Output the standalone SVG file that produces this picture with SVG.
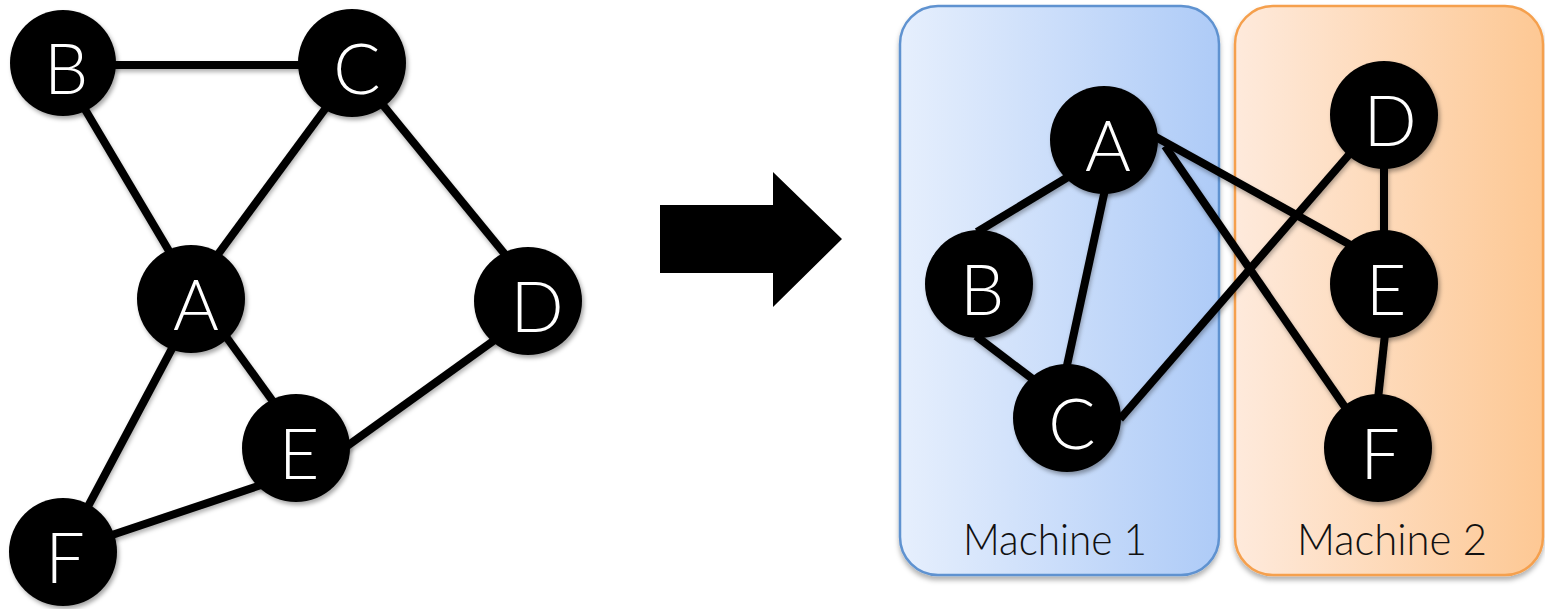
<svg xmlns="http://www.w3.org/2000/svg" width="1545" height="609" viewBox="0 0 1545 609">
  <defs>
    <linearGradient id="gradBlue" x1="0" y1="0" x2="1" y2="0">
      <stop offset="0" stop-color="#e6effd"/>
      <stop offset="1" stop-color="#aecbf7"/>
    </linearGradient>
    <linearGradient id="gradOrange" x1="0" y1="0" x2="1" y2="0">
      <stop offset="0" stop-color="#feeadc"/>
      <stop offset="1" stop-color="#fdc894"/>
    </linearGradient>
    <filter id="softShadow" x="-20%" y="-20%" width="140%" height="140%">
      <feDropShadow dx="2" dy="3" stdDeviation="2" flood-color="#000" flood-opacity="0.35"/>
    </filter>
    <filter id="lineShadow" x="-10%" y="-10%" width="120%" height="120%">
      <feDropShadow dx="1" dy="3" stdDeviation="2" flood-color="#000" flood-opacity="0.3"/>
    </filter>
    <filter id="boxShadow" x="-10%" y="-10%" width="120%" height="120%">
      <feDropShadow dx="0" dy="4" stdDeviation="2.5" flood-color="#000" flood-opacity="0.3"/>
    </filter>
  </defs>
  <style>
    .edge { stroke: #000; stroke-width: 8; fill: none; }
    .node circle { fill: #000; filter: url(#softShadow); }
    .node text { fill: #fff; font-family: Lato, "Open Sans", "Liberation Sans", sans-serif; font-weight: 300; font-size: 70px; text-anchor: middle; }
    .label { fill: #111; font-family: Lato, "Open Sans", "Liberation Sans", sans-serif; font-weight: 300; font-size: 44px; }
  </style>

  <rect width="1545" height="609" fill="#fff"/>

  <!-- machine partitions -->
  <g id="machine1">
    <rect x="900" y="6" width="319" height="569" rx="38" ry="38" fill="url(#gradBlue)" stroke="#5e92d0" stroke-width="2.5" filter="url(#boxShadow)"/>
    <text class="label" x="963" y="555" textLength="184" lengthAdjust="spacingAndGlyphs">Machine 1</text>
  </g>
  <g id="machine2">
    <rect x="1235" y="6" width="308" height="569" rx="38" ry="38" fill="url(#gradOrange)" stroke="#f5a04e" stroke-width="2.5" filter="url(#boxShadow)"/>
    <text class="label" x="1297" y="555" textLength="190" lengthAdjust="spacingAndGlyphs">Machine 2</text>
  </g>

  <!-- transformation arrow -->
  <g id="arrow">
    <polygon points="660,205 773,205 773,172 842,239 773,307 773,273 660,273" fill="#000"/>
  </g>

  <!-- edges -->
  <g id="connectors" filter="url(#lineShadow)">
    <!-- original graph -->
    <line class="edge" x1="110" y1="65" x2="305" y2="65"/>
    <line class="edge" x1="83" y1="106" x2="172" y2="256"/>
    <line class="edge" x1="328" y1="105" x2="213" y2="261"/>
    <line class="edge" x1="378" y1="99" x2="508" y2="258"/>
    <line class="edge" x1="222" y1="331" x2="277" y2="407"/>
    <line class="edge" x1="176" y1="341" x2="84" y2="514"/>
    <line class="edge" x1="267" y1="483" x2="106" y2="537"/>
    <line class="edge" x1="343" y1="449" x2="496" y2="339"/>
    <!-- partitioned graph -->
    <line class="edge" x1="977" y1="232" x2="1068" y2="177"/>
    <line class="edge" x1="1106" y1="185" x2="1066" y2="370"/>
    <line class="edge" x1="976" y1="336" x2="1034" y2="380"/>
    <line class="edge" x1="1120" y1="419" x2="1353" y2="150"/>
    <line class="edge" x1="1154" y1="136" x2="1356" y2="248"/>
    <line class="edge" x1="1165" y1="146" x2="1347" y2="410"/>
    <line class="edge" x1="1384" y1="165" x2="1384" y2="234"/>
    <line class="edge" x1="1385" y1="334" x2="1378" y2="399"/>
  </g>

  <!-- original graph nodes -->
  <g id="left-B" class="node"><circle cx="63" cy="63" r="53"/><text x="66" y="94">B</text></g>
  <g id="left-C" class="node"><circle cx="352" cy="63" r="54"/><text x="357" y="94">C</text></g>
  <g id="left-A" class="node"><circle cx="191" cy="299" r="54"/><text x="196" y="330">A</text></g>
  <g id="left-D" class="node"><circle cx="528" cy="301" r="54"/><text x="537" y="332">D</text></g>
  <g id="left-E" class="node"><circle cx="296" cy="448" r="54"/><text x="299" y="479">E</text></g>
  <g id="left-F" class="node"><circle cx="63" cy="552" r="54"/><text x="65" y="583">F</text></g>

  <!-- partitioned graph nodes -->
  <g id="right-A" class="node"><circle cx="1104" cy="140" r="54"/><text x="1108" y="171">A</text></g>
  <g id="right-B" class="node"><circle cx="979" cy="284" r="54"/><text x="982" y="315">B</text></g>
  <g id="right-C" class="node"><circle cx="1067" cy="418" r="54"/><text x="1072" y="449">C</text></g>
  <g id="right-D" class="node"><circle cx="1384" cy="115" r="54"/><text x="1390" y="146">D</text></g>
  <g id="right-E" class="node"><circle cx="1384" cy="284" r="54"/><text x="1386" y="315">E</text></g>
  <g id="right-F" class="node"><circle cx="1378" cy="448" r="54"/><text x="1380" y="479">F</text></g>
</svg>
